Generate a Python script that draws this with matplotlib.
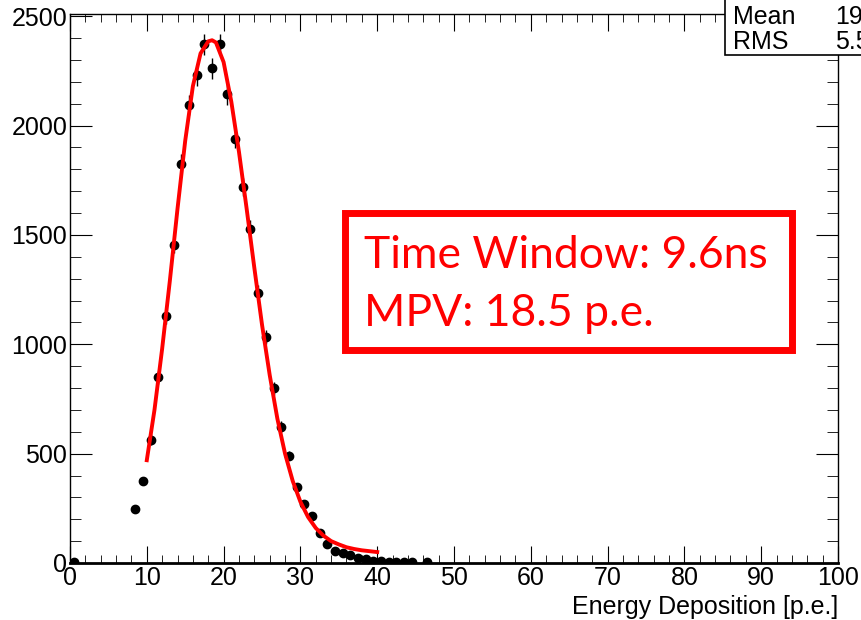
import numpy as np
import matplotlib
matplotlib.use("Agg")
import matplotlib.pyplot as plt
from matplotlib.patches import Rectangle
from matplotlib.ticker import MultipleLocator

# histogram bins (bin centres, counts)
bin_x = [0.5, 8.5, 9.5, 10.5, 11.5, 12.5, 13.5, 14.5, 15.5, 16.5, 17.5, 18.5, 19.5,
         20.5, 21.5, 22.5, 23.5, 24.5, 25.5, 26.5, 27.5, 28.5, 29.5, 30.5, 31.5,
         32.5, 33.5, 34.5, 35.5, 36.5, 37.5, 38.5, 39.5, 40.5, 41.5, 42.5, 43.5,
         44.5, 46.5]
counts = [3, 248, 376, 564, 849, 1128, 1454, 1826, 2096, 2229, 2372, 2261, 2372,
          2142, 1940, 1720, 1527, 1234, 1032, 798, 624, 491, 349, 268, 215,
          135, 85, 55, 48, 36, 24, 18, 11, 8, 6, 5, 4, 4, 3]

# fitted curve
fit_x = [10, 11, 12, 13, 14, 15, 16, 17, 18, 18.5, 19, 20, 21, 22, 23, 24, 25,
         26, 27, 28, 29, 30, 31, 32, 33, 34, 35, 36, 37, 38, 39, 40]
fit_y = [470, 700, 980, 1290, 1620, 1930, 2180, 2330, 2385, 2390, 2380, 2290,
         2110, 1880, 1620, 1350, 1090, 860, 660, 500, 375, 280, 210, 160, 125,
         100, 85, 72, 64, 58, 54, 50]

plt.rcParams['font.family'] = ['Liberation Sans', 'DejaVu Sans']

fig = plt.figure(figsize=(8.62, 6.2), dpi=100)
ax = fig.add_axes([70 / 862, 1 - 563 / 620, 768 / 862, 549 / 620])

ax.errorbar(bin_x, counts, yerr=np.sqrt(counts), fmt='o', color='black',
            ms=6, elinewidth=1.0, capsize=0, zorder=3)
ax.plot(fit_x, fit_y, color='#ff0000', lw=2.8, zorder=4)

ax.set_xlim(0, 100)
ax.set_ylim(0, 2510)
ax.xaxis.set_major_locator(MultipleLocator(10))
ax.xaxis.set_minor_locator(MultipleLocator(2))
ax.yaxis.set_major_locator(MultipleLocator(500))
ax.yaxis.set_minor_locator(MultipleLocator(100))
ax.tick_params(which='both', direction='in', top=True, right=True,
               labelsize=18, colors='black')
ax.tick_params(axis='x', which='major', length=12, pad=2)
ax.tick_params(axis='x', which='minor', length=6)
ax.tick_params(axis='y', which='major', length=16, pad=2)
ax.tick_params(axis='y', which='minor', length=8)
for s in ax.spines.values():
    s.set_linewidth(1.0)
ax.spines['bottom'].set_linewidth(2.0)

ax.set_xlabel('Energy Deposition [p.e.]', fontsize=18)
ax.xaxis.set_label_coords(1.0, -0.058)
ax.xaxis.label.set_horizontalalignment('right')

# red annotation box
box = Rectangle((345 / 862, 1 - 350 / 620), 447 / 862, 137 / 620,
                transform=fig.transFigure, fill=False, ec='#ff0000', lw=5, zorder=5)
fig.add_artist(box)
fig.text(364 / 862, 1 - 255 / 620, 'Time Window: 9.6ns', color='#ff0000',
         fontsize=32, family=['Lato', 'DejaVu Sans'], va='center', ha='left')
fig.text(364 / 862, 1 - 313 / 620, 'MPV: 18.5 p.e.', color='#ff0000',
         fontsize=32, family=['Lato', 'DejaVu Sans'], va='center', ha='left')

# stats box (cut off at the right edge, as in the original)
stat = Rectangle((725 / 862, 1 - 55 / 620), 200 / 862, 70 / 620,
                 transform=fig.transFigure, fc='white', ec='black', lw=1.2, zorder=6)
fig.add_artist(stat)
fig.text(733 / 862, 1 - 17 / 620, 'Mean', fontsize=18, va='center', ha='left', zorder=7)
fig.text(835 / 862, 1 - 17 / 620, '19.89', fontsize=18, va='center', ha='left', zorder=7)
fig.text(733 / 862, 1 - 42 / 620, 'RMS', fontsize=18, va='center', ha='left', zorder=7)
fig.text(835 / 862, 1 - 42 / 620, '5.517', fontsize=18, va='center', ha='left', zorder=7)

fig.savefig('out.png', dpi=100)
